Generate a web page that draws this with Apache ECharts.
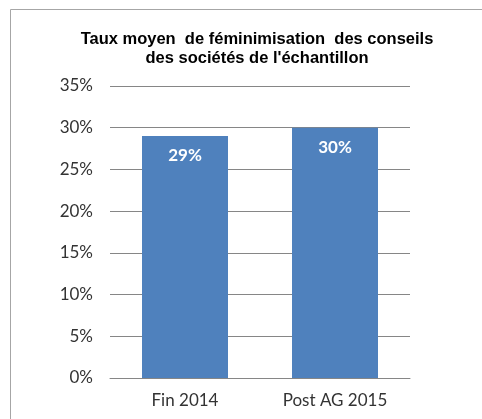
<!DOCTYPE html>
<html>
<head>
<meta charset="utf-8">
<script src="https://cdn.jsdelivr.net/npm/echarts@6/dist/echarts.min.js"></script>
<style>
  html, body { margin: 0; padding: 0; background: #fff; }
  #chart { width: 482px; height: 419px; }
</style>
</head>
<body>
<div id="chart"></div>
<script>
// données
const categories = ["Fin 2014", "Post AG 2015"];
const values = [29, 30];
const yTicks = [0, 5, 10, 15, 20, 25, 30, 35];

let myChart = echarts.init(document.getElementById("chart"));

let option = {
  animation: false,
  title: {
    text: "Taux moyen  de féminimisation  des conseils\ndes sociétés de l'échantillon",
    left: 252,
    top: 25,
    textAlign: "center",
    textStyle: {
      fontFamily: "Liberation Sans",
      fontWeight: "bold",
      fontSize: 16.5,
      lineHeight: 19,
      color: "#000",
    },
  },
  graphic: [
    {
      // cadre gris du graphique
      type: "rect",
      shape: { x: 10.5, y: 9.5, width: 500, height: 500 },
      style: { fill: "none", stroke: "#a6a6a6", lineWidth: 1 },
      silent: true,
    },
  ],
  grid: {
    left: 110,
    right: 72,
    top: 86,
    bottom: 41,
  },
  xAxis: {
    type: "category",
    data: categories,
    axisLine: { lineStyle: { color: "#868686", width: 1 } },
    axisTick: { show: false },
    axisLabel: {
      color: "#333",
      fontFamily: "Lato",
      fontSize: 17,
      margin: 14,
    },
  },
  yAxis: {
    type: "value",
    min: yTicks[0],
    max: yTicks[yTicks.length - 1],
    interval: 5,
    axisLine: { show: false },
    axisTick: { show: false },
    splitLine: { lineStyle: { color: "#868686", width: 1 } },
    axisLabel: {
      color: "#333",
      fontFamily: "Lato",
      fontSize: 17,
      margin: 17,
      formatter: "{value}%",
    },
  },
  series: [
    {
      type: "bar",
      data: values,
      barWidth: 86,
      itemStyle: { color: "#4f81bd" },
      label: {
        show: true,
        position: "insideTop",
        distance: 11,
        formatter: "{c}%",
        color: "#fff",
        fontFamily: "Lato",
        fontWeight: "bold",
        fontSize: 17,
      },
    },
  ],
};

myChart.setOption(option);
</script>
</body>
</html>
